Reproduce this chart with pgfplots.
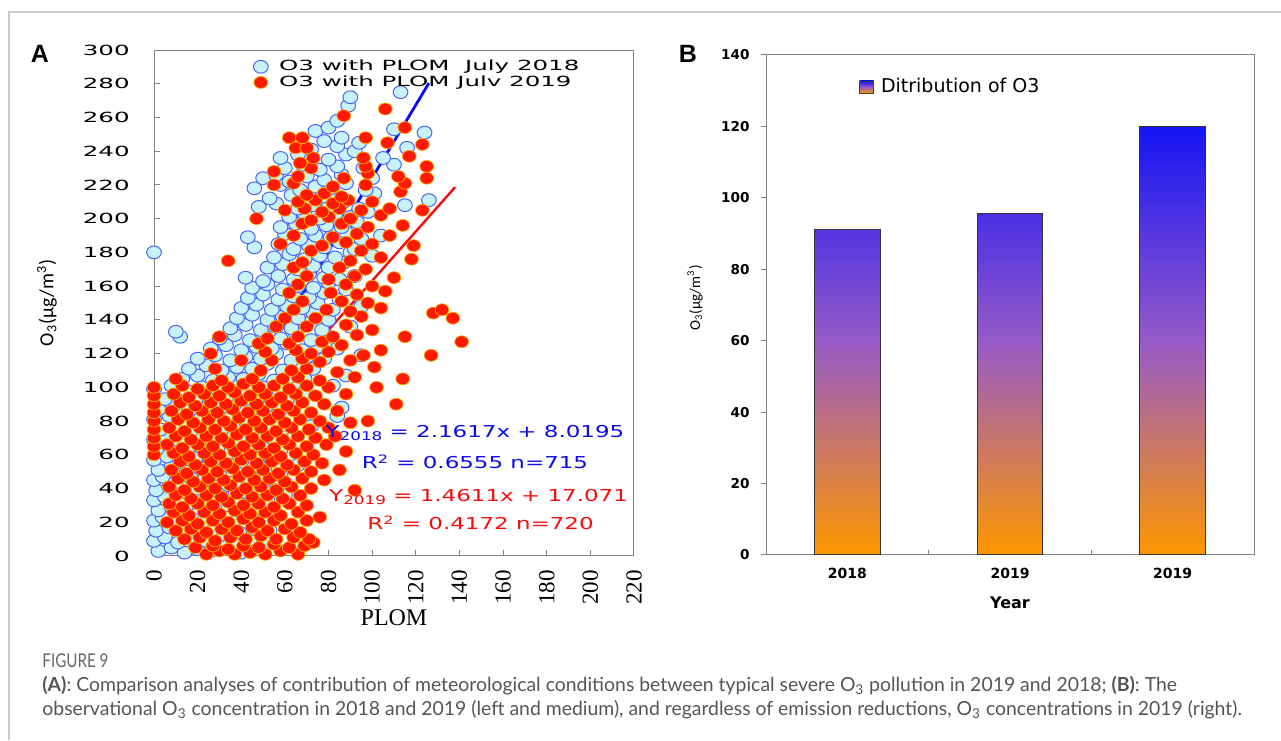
\documentclass[border=0pt]{standalone}
\usepackage{fontspec}
\usepackage{pgfplots}
\pgfplotsset{compat=1.18}
\setmainfont{DejaVu Sans}
\newfontfamily\wideA[FakeStretch=1.75]{DejaVu Sans}
\newfontfamily\wideB[FakeStretch=1.4]{DejaVu Sans}
\newfontfamily\tms{Liberation Serif}
\newfontfamily\arl{Liberation Sans}
\newfontfamily\calib{Carlito}
\newfontfamily\capfont{Lato}
\newfontfamily\capcond[FakeStretch=0.8]{Lato}

\definecolor{o3blue}{RGB}{20,20,245}
\definecolor{o3mid}{RGB}{150,90,200}
\definecolor{o3orange}{RGB}{255,150,0}
\definecolor{m18edge}{RGB}{70,100,245}
\definecolor{m18fill}{RGB}{200,242,250}
\definecolor{m19fill}{RGB}{255,25,0}
\definecolor{m19edge}{RGB}{255,175,0}
\definecolor{fit18}{RGB}{10,10,240}
\definecolor{fit19}{RGB}{250,10,10}
\definecolor{framegray}{RGB}{200,200,200}
\definecolor{axgray}{RGB}{130,130,130}
\definecolor{captext}{RGB}{85,85,85}

\begin{document}
\begin{tikzpicture}
\path[use as bounding box] (0,0) rectangle (640.5pt,370pt);
\draw[framegray, line width=0.6pt] (4.5pt,0) -- (4.5pt,364pt) -- (640.5pt,364pt);

% ---- panel A: scatter
\begin{axis}[
  at={(77pt,92pt)}, anchor=south west,
  scale only axis, width=240pt, height=253pt,
  xmin=0, xmax=220, ymin=0, ymax=300,
  xtick={0,20,...,220}, ytick={0,20,...,300},
  xtick pos=bottom, ytick pos=left, tick align=inside,
  major tick length=3pt,
  axis line style={axgray, line width=0.5pt},
  tick style={axgray, line width=0.5pt},
  /pgf/number format/assume math mode=true,
  yticklabel style={font=\wideA\fontsize{7}{8}\selectfont, anchor=east, inner xsep=0pt, xshift=-12pt},
  xticklabel style={font=\tms\fontsize{11.5}{12}\selectfont, rotate=90, anchor=east, inner xsep=7pt},
  legend style={at={(0.2,0.985)}, anchor=north west, draw=none, fill=none,
    font=\wideA\fontsize{7}{7}\selectfont, row sep=-1pt, inner sep=0pt,
    nodes={inner sep=1pt}},
  legend image code/.code={\path (0pt,0pt) (13pt,0pt);
    \draw[#1] plot coordinates {(5pt,0pt)};},
  legend cell align=left,
]
\addplot[only marks, mark=*, mark size=3.2pt,
  mark options={xscale=1.15, draw=m18edge, fill=m18fill, line width=0.5pt}]
coordinates {
(2,3)(8,5)(14,2)(20,4)(26,3)(33,6)(40,2)(47,4)
(0,9)(5,11)(11,8)(17,10)(24,9)(30,12)(37,8)(44,10)(51,9)
(1,15)(7,17)(13,14)(19,16)(26,15)(32,18)(39,14)(46,16)(53,15)
(0,21)(4,23)(10,20)(16,22)(23,21)(29,24)(36,20)(43,22)(50,21)(57,24)
(2,27)(8,29)(14,26)(21,28)(27,27)(34,30)(41,26)(48,28)(55,27)
(0,33)(5,35)(11,32)(18,34)(25,33)(31,36)(38,32)(45,34)(52,33)(60,36)
(1,39)(7,41)(14,38)(20,40)(27,39)(34,42)(41,38)(48,40)(56,39)
(0,45)(4,47)(10,44)(17,46)(23,45)(30,48)(37,44)(44,46)(51,45)(58,48)
(2,51)(8,53)(15,50)(22,52)(28,51)(35,54)(42,50)(49,52)(57,51)(66,54)
(0,57)(6,59)(12,56)(19,58)(26,57)(33,60)(40,56)(47,58)(54,57)
(1,63)(8,65)(15,62)(22,64)(29,63)(36,66)(43,62)(50,64)(58,63)
(0,69)(5,71)(12,68)(19,70)(26,69)(33,72)(40,68)(47,70)(55,69)(62,72)
(3,75)(10,77)(17,74)(24,76)(31,75)(38,78)(45,74)(52,76)(59,75)(72,77)
(0,81)(7,83)(14,80)(21,82)(28,81)(35,84)(42,80)(49,82)(56,81)(84,83)
(2,87)(9,89)(16,86)(23,88)(30,87)(37,90)(44,86)(51,88)(58,87)(65,90)(86,88)
(5,93)(12,95)(19,92)(26,94)(33,93)(40,96)(47,92)(54,94)(61,93)(68,96)
(0,99)(8,101)(15,98)(22,100)(29,99)(36,102)(43,98)(50,100)(57,99)(64,102)(82,101)
(13,105)(20,107)(27,104)(34,106)(41,105)(48,108)(55,104)(62,106)(69,105)(88,107)
(16,111)(24,113)(31,110)(38,112)(45,111)(52,114)(59,110)(66,112)(73,111)
(20,117)(28,119)(35,116)(42,118)(49,117)(56,120)(63,116)(70,118)(78,117)(95,119)
(26,123)(33,125)(40,122)(47,124)(54,123)(61,126)(68,122)(75,124)(84,123)
(12,130)(10,133)(30,129)(37,131)(44,128)(51,130)(58,129)(65,132)(72,128)(80,130)
(35,135)(42,137)(49,134)(56,136)(63,135)(70,138)(77,134)(90,136)
(38,141)(45,143)(52,140)(59,142)(66,141)(73,144)(80,140)
(40,147)(47,149)(54,146)(61,148)(68,147)(75,150)(82,146)(95,148)
(43,153)(50,155)(57,152)(64,154)(71,153)(78,156)(85,152)
(45,159)(52,161)(59,158)(66,160)(73,159)(80,162)(88,158)
(42,165)(50,163)(57,166)(64,164)(71,167)(78,165)(85,164)(92,166)
(52,171)(59,173)(66,170)(73,172)(80,171)(87,174)
(55,177)(62,179)(69,176)(76,178)(83,177)(90,180)(100,178)
(0,180)(46,183)(57,185)(64,182)(71,184)(78,183)(85,186)(92,182)
(43,189)(60,191)(67,188)(74,190)(81,189)(88,192)(95,188)(104,190)
(58,195)(65,197)(72,194)(79,196)(86,195)(93,198)
(62,201)(69,203)(76,200)(83,202)(90,201)(98,204)
(48,207)(56,209)(66,206)(73,208)(80,207)(87,210)(94,206)(115,208)
(53,212)(63,214)(70,211)(77,213)(84,212)(101,215)(126,211)
(46,218)(58,220)(67,217)(74,219)(81,218)(88,221)(97,217)
(50,224)(56,226)(62,222)(70,225)(78,223)(86,226)(100,224)
(60,230)(68,232)(76,229)(84,231)(96,230)(110,232)
(58,236)(66,238)(80,235)(88,238)(105,236)
(72,241)(84,243)(92,240)(116,242)
(78,246)(86,248)(94,245)
(74,252)(80,254)(110,253)(124,251)
(84,258)(89,267)(90,272)(113,275)
};
\addlegendentry{O3 with PLOM~~July 2018}
\addplot[only marks, mark=*, mark size=3pt,
  mark options={xscale=1.15, draw=m19edge, fill=m19fill, line width=0.35pt}]
coordinates {
(24,1)(30,3)(37,1)(44,2)(51,1)(58,3)(66,1)
(19,5)(27,6)(34,4)(41,6)(48,5)(55,7)(62,5)(69,6)(73,8)
(14,10)(21,11)(28,9)(35,11)(42,10)(49,12)(56,10)(64,11)(71,10)
(10,15)(17,16)(24,14)(31,16)(38,15)(45,17)(52,15)(60,16)(67,14)
(6,20)(13,21)(20,19)(27,21)(34,20)(41,22)(48,20)(55,21)(63,19)(70,21)(76,23)
(9,26)(16,24)(23,26)(30,25)(37,27)(44,25)(51,26)(58,24)(66,26)
(7,31)(13,29)(20,31)(27,30)(34,32)(41,30)(48,31)(55,29)(62,31)(70,30)
(10,36)(17,34)(24,36)(31,35)(38,37)(45,35)(52,36)(59,34)(67,36)
(7,41)(14,39)(21,41)(28,40)(35,42)(42,40)(49,41)(56,39)(63,41)(72,40)(92,39)
(11,46)(18,44)(25,46)(32,45)(39,47)(46,45)(53,46)(60,44)(68,46)(78,45)
(8,51)(15,49)(22,51)(29,50)(36,52)(43,50)(50,51)(57,49)(64,51)(72,50)(85,51)
(12,56)(19,54)(26,56)(33,55)(40,57)(47,55)(54,56)(61,54)(69,56)(77,55)
(0,60)(9,61)(16,59)(23,61)(30,60)(37,62)(44,60)(51,61)(58,59)(65,61)(73,60)(88,62)
(0,65)(6,66)(13,64)(20,66)(27,65)(34,67)(41,65)(48,66)(55,64)(62,66)(70,65)(79,66)
(0,70)(10,71)(17,69)(24,71)(31,70)(38,72)(45,70)(52,71)(59,69)(66,71)(74,70)(83,71)
(0,75)(7,76)(14,74)(21,76)(28,75)(35,77)(42,75)(49,76)(56,74)(63,76)(71,75)(80,76)
(0,80)(11,81)(18,79)(25,81)(32,80)(39,82)(46,80)(53,81)(60,79)(67,81)(76,80)(90,79)(98,80)
(0,85)(8,86)(15,84)(22,86)(29,85)(36,87)(43,85)(50,86)(57,84)(64,86)(72,85)(84,86)
(0,90)(12,91)(19,89)(26,91)(33,90)(40,92)(47,90)(54,91)(61,89)(68,91)(78,90)(111,90)
(0,95)(9,96)(16,94)(23,96)(30,95)(37,97)(44,95)(51,96)(58,94)(65,96)(74,95)(88,96)
(0,100)(13,101)(20,99)(27,101)(34,100)(41,102)(48,100)(55,101)(62,99)(70,101)(80,100)(102,100)
(10,105)(31,104)(45,105)(59,105)(66,106)(76,104)(92,106)(114,105)
(28,111)(49,110)(63,110)(70,111)(84,109)(101,112)
(40,116)(54,116)(68,117)(76,115)(90,116)
(26,120)(51,121)(65,122)(72,120)(80,121)(96,119)(127,119)
(48,126)(62,126)(77,127)(86,125)(104,122)(141,127)
(30,130)(52,129)(66,130)(82,130)(93,131)(115,130)
(56,136)(70,136)(88,137)(100,134)
(60,141)(74,141)(95,142)(137,141)
(64,146)(79,146)(90,145)(104,147)(128,144)(132,146)
(68,151)(86,151)(98,150)
(62,156)(81,156)(93,155)(106,157)
(66,161)(88,161)(100,160)
(70,166)(80,164)(92,166)(110,165)
(64,171)(85,171)(97,170)
(34,175)(68,174)(90,175)(104,177)(118,176)
(72,181)(95,181)
(58,185)(77,184)(88,186)(100,185)(119,184)
(64,190)(82,189)(93,191)(108,190)
(68,197)(86,197)(98,195)(114,196)
(47,200)(72,199)(80,201)(90,200)(104,202)
(60,205)(69,206)(77,204)(85,206)(95,205)(108,206)(123,205)
(66,210)(74,211)(82,209)(89,211)(100,210)
(70,214)(78,215)(86,213)(113,216)
(55,220)(64,221)(82,219)(97,220)(115,221)
(66,225)(87,224)(98,227)(112,225)(125,224)
(55,228)(72,230)(97,231)(125,231)
(67,233)(73,236)(96,236)(117,237)
(65,242)(70,242)(107,245)(123,244)
(62,248)(68,248)(97,248)
(115,254)(87,261)(106,265)
};
\addlegendentry{O3 with PLOM Julv 2019}
\addplot[fit18, line width=1.4pt, forget plot] coordinates {(0,8.0195) (126,280.4)};
\addplot[fit19, line width=1.2pt, forget plot] coordinates {(0,17.071) (138,218.7)};
\end{axis}

% ---- panel B: bars
\begin{axis}[
  at={(383pt,92.5pt)}, anchor=south west,
  scale only axis, width=244pt, height=250pt,
  xmin=-0.5, xmax=2.5, ymin=0, ymax=140,
  ytick={0,20,...,140},
  xtick={0.5,1.5}, xticklabels={},
  extra x ticks={0,1,2}, extra x tick labels={2018,2019,2019},
  extra x tick style={major tick length=0pt},
  xtick pos=bottom, ytick pos=left, tick align=outside,
  major tick length=2.5pt,
  xtick style={yshift=2.5pt},
  axis line style={axgray, line width=0.5pt},
  tick style={axgray, line width=0.5pt},
  /pgf/number format/assume math mode=true,
  yticklabel style={font=\bfseries\fontsize{6.8}{8}\selectfont, anchor=east, inner xsep=0pt, xshift=-5.5pt},
  xticklabel style={font=\bfseries\fontsize{7}{8}\selectfont, yshift=-3pt},
  legend style={at={(0.19,0.936)}, anchor=west, draw=none, fill=none,
    font=\fontsize{9.5}{10}\selectfont, inner sep=0pt, nodes={inner sep=1.5pt}},
]
\addplot[ybar, bar width=32.8pt, draw=black!80, line width=0.5pt,
  top color=o3blue, bottom color=o3orange, middle color=o3mid,
  legend image code/.code={\draw[draw=black!75, line width=0.4pt, top color=o3blue,
    bottom color=o3orange, middle color=o3mid] (0pt,-3pt) rectangle (7pt,3pt);
    \path (9pt,0pt);}]
coordinates {(0,91) (1,95.7) (2,120)};
\addlegendentry{Ditribution of O3}
\end{axis}

% ---- labels
\node[font=\arl\bfseries\fontsize{12.5}{13}\selectfont] at (20pt,343pt) {A};
\node[font=\arl\bfseries\fontsize{12.5}{13}\selectfont] at (344pt,343pt) {B};
\node[rotate=90, font=\calib\fontsize{10}{11}\selectfont] at (23.5pt,218.5pt)
  {O\textsubscript{3}(μg/m\textsuperscript{3})};
\node[rotate=90, font=\calib\fontsize{7.5}{8}\selectfont] at (347.5pt,221pt)
  {O\textsubscript{3}(μg/m\textsuperscript{3})};
\node[font=\tms\fontsize{12}{13}\selectfont] at (197pt,61pt) {PLOM};
\node[font=\bfseries\fontsize{8}{9}\selectfont] at (505pt,68.5pt) {Year};

\node[text=fit18, font=\wideB\fontsize{8.2}{9}\selectfont] at (237.5pt,153.5pt)
  {Y\raisebox{-1.8pt}{\fontsize{6}{6}\selectfont 2018} = 2.1617x + 8.0195};
\node[text=fit18, font=\wideB\fontsize{8.2}{9}\selectfont] at (237.5pt,139pt)
  {R\textsuperscript{2} = 0.6555 n=715};
\node[text=fit19, font=\wideB\fontsize{8.2}{9}\selectfont] at (239.3pt,121.5pt)
  {Y\raisebox{-1.8pt}{\fontsize{6}{6}\selectfont 2019} = 1.4611x + 17.071};
\node[text=fit19, font=\wideB\fontsize{8.2}{9}\selectfont] at (240.3pt,108.5pt)
  {R\textsuperscript{2} = 0.4172 n=720};

% ---- caption
\node[anchor=west, inner sep=0pt, text=captext!90!white, font=\capcond\fontsize{9.5}{10}\selectfont]
  at (21pt,39.5pt) {FIGURE 9};
\node[anchor=west, inner sep=0pt, text=captext, font=\capfont\fontsize{9.7}{11}\selectfont]
  at (21pt,27pt) {\textbf{(A)}: Comparison analyses of contribution of meteorological conditions between typical severe O\textsubscript{3} pollution in 2019 and 2018; \textbf{(B)}: The};
\node[anchor=west, inner sep=0pt, text=captext, font=\capfont\fontsize{9.7}{11}\selectfont]
  at (21pt,15pt) {observational O\textsubscript{3} concentration in 2018 and 2019 (left and medium), and regardless of emission reductions, O\textsubscript{3} concentrations in 2019 (right).};
\end{tikzpicture}
\end{document}
